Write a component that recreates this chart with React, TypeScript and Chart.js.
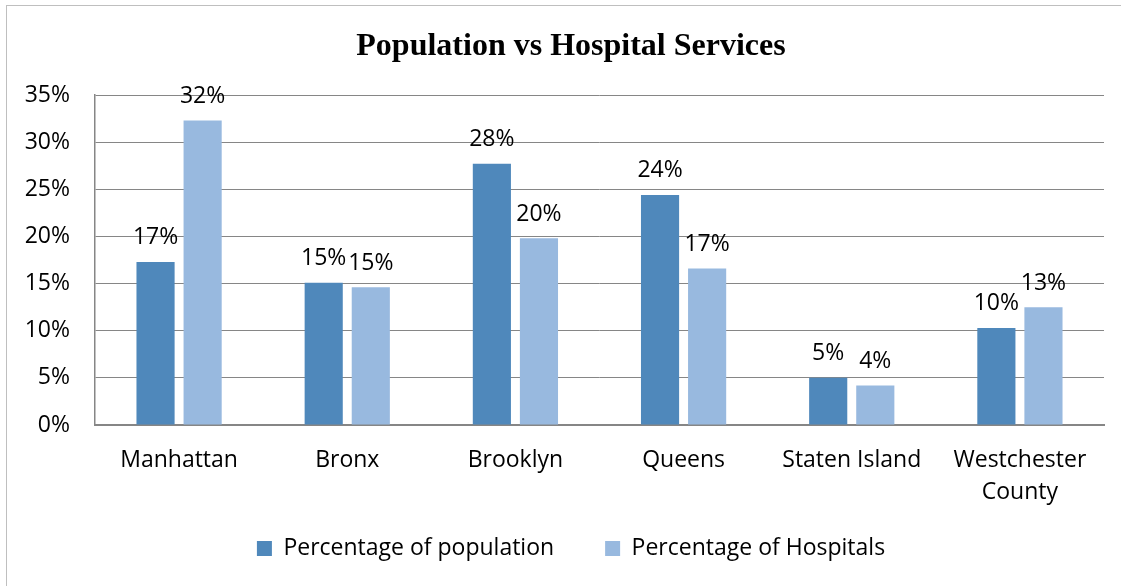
import React, { useEffect, useRef } from "react";
import { Chart, registerables } from "chart.js";

Chart.register(...registerables);

const categories: (string | string[])[] = [
  "Manhattan",
  "Bronx",
  "Brooklyn",
  "Queens",
  "Staten Island",
  ["Westchester", "County"],
];
const populationPct = [17.3, 15.1, 27.7, 24.4, 5.0, 10.3];
const hospitalPct = [32.3, 14.6, 19.8, 16.6, 4.2, 12.5];
const seriesNames = ["Percentage of population", "Percentage of Hospitals"];
const yTicks = [0, 5, 10, 15, 20, 25, 30, 35];
const chartTitle = "Population vs Hospital Services";

const FONT = "'Open Sans', 'Noto Sans', sans-serif";
const FS = 23;

const dataLabels = {
  id: "dataLabels",
  afterDatasetsDraw(chart: any) {
    const ctx = chart.ctx;
    ctx.save();
    ctx.font = `${FS}px ${FONT}`;
    ctx.fillStyle = "#000";
    ctx.textAlign = "center";
    ctx.textBaseline = "middle";
    chart.data.datasets.forEach((ds: any, i: number) => {
      const meta = chart.getDatasetMeta(i);
      meta.data.forEach((el: any, j: number) => {
        const v = ds.data[j];
        ctx.fillText(Math.round(v) + "%", el.x, el.y - 24);
      });
    });
    ctx.restore();
  },
};

const layoutTweaks = {
  id: "layoutTweaks",
  afterLayout(chart: any) {
    // let y tick labels extend into left padding, let 2-line x labels not be clipped; lift legend slightly
    chart.scales.y.left = 0;
    chart.scales.x.bottom += 20;
    if (chart.legend) {
      chart.legend.top -= 16;
      chart.legend.bottom -= 16;
    }
  },
};

const PAD_LEFT = 38;

export default function App() {
  const ref = useRef<HTMLCanvasElement>(null);
  useEffect(() => {
    if (!ref.current) return;
    const chart = new Chart(ref.current, {
      type: "bar",
      data: {
        labels: categories as any,
        datasets: [
          {
            label: seriesNames[0],
            data: populationPct,
            backgroundColor: "#4F88BB",
            barPercentage: 0.81,
            categoryPercentage: 0.56,
          },
          {
            label: seriesNames[1],
            data: hospitalPct,
            backgroundColor: "#98B9DF",
            barPercentage: 0.81,
            categoryPercentage: 0.56,
          },
        ],
      },
      options: {
        responsive: false,
        animation: false,
        layout: { padding: { left: PAD_LEFT, right: 17, top: 0, bottom: 0 } },
        plugins: {
          title: {
            display: true,
            text: chartTitle,
            color: "#000",
            font: { family: "'Liberation Serif', 'Times New Roman', serif", size: 32, weight: "bold", lineHeight: 1.2 },
            padding: { top: 28, bottom: 28.6 },
          },
          legend: {
            position: "bottom",
            labels: {
              color: "#000",
              font: { family: FONT, size: FS },
              boxWidth: 15,
              boxHeight: 15,
              padding: 51,
            },
          },
          tooltip: { enabled: false },
        },
        scales: {
          x: {
            grid: { display: false, drawTicks: false },
            border: { display: true, color: "#868686", width: 2 },
            ticks: {
              color: "#000",
              font: { family: FONT, size: FS, lineHeight: 1.39 },
              padding: 19,
              maxRotation: 0,
              autoSkip: false,
            },
            afterFit(s: any) {
              s.height = 77;
            },
          },
          y: {
            min: 0,
            max: 35,
            afterBuildTicks(s: any) {
              s.ticks = yTicks.map((v) => ({ value: v }));
            },
            grid: { color: "#868686", drawTicks: false, lineWidth: 1 },
            border: { display: true, color: "#868686", width: 1.5 },
            ticks: {
              color: "#000",
              font: { family: FONT, size: FS },
              padding: 25,
              callback: (v: any) => v + "%",
            },
            afterFit(s: any) {
              s.width = 95 - PAD_LEFT;
            },
          },
        },
      },
      plugins: [dataLabels, layoutTweaks],
    });
    return () => chart.destroy();
  }, []);
  return (
    <div style={{ position: "fixed", left: 0, top: 0, width: 1121, height: 586, background: "#fff", overflow: "hidden" }}>
      <div style={{ position: "absolute", left: 6, top: 5, width: 1200, height: 700, border: "1px solid #BFBFBF" }} />
      <canvas ref={ref} width={1121} height={586} style={{ position: "absolute", left: 0, top: 0 }} />
    </div>
  );
}
